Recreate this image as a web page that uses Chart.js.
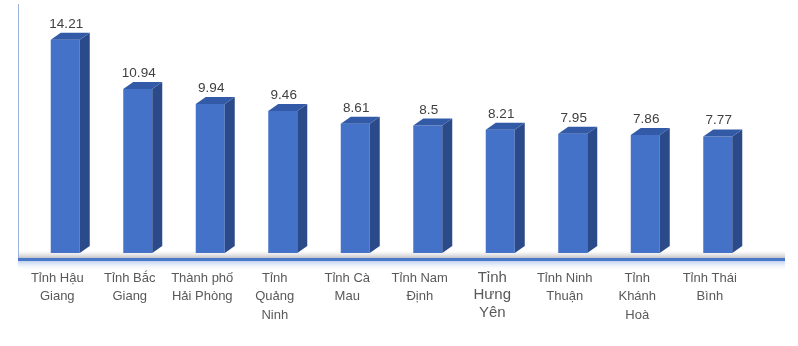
<!DOCTYPE html>
<html>
<head>
<meta charset="utf-8">
<script src="https://cdn.jsdelivr.net/npm/chart.js@4/dist/chart.umd.min.js"></script>
<style>
html,body{margin:0;padding:0;background:#ffffff;}
#wrap{width:798px;height:346px;}
</style>
</head>
<body>
<div id="wrap"><canvas id="c" width="798" height="346"></canvas></div>
<script>
const categories = [
  ["Tỉnh Hậu","Giang"],
  ["Tỉnh Bắc","Giang"],
  ["Thành phố","Hải Phòng"],
  ["Tỉnh","Quảng","Ninh"],
  ["Tỉnh Cà","Mau"],
  ["Tỉnh Nam","Định"],
  ["Tỉnh","Hưng","Yên"],
  ["Tỉnh Ninh","Thuận"],
  ["Tỉnh","Khánh","Hoà"],
  ["Tỉnh Thái","Bình"]
];
const values = [14.21, 10.94, 9.94, 9.46, 8.61, 8.5, 8.21, 7.95, 7.86, 7.77];
const valueLabels = ["14.21","10.94","9.94","9.46","8.61","8.5","8.21","7.95","7.86","7.77"];

const FONT = "'Liberation Sans', Arial, sans-serif";
const SHIFT = 8, DX = 10, DY = 7;

const bar3d = {
  id: 'bar3d',
  beforeDatasetsDraw(chart) {
    const ctx = chart.ctx;
    const a = chart.chartArea;
    const x0 = a.left - 3, w = 785 - x0;
    ctx.save();
    let g = ctx.createLinearGradient(0, a.bottom - 2, 0, a.bottom + 5);
    g.addColorStop(0, 'rgba(215,215,218,0)');
    g.addColorStop(1, 'rgba(185,185,190,0.85)');
    ctx.fillStyle = g;
    ctx.fillRect(x0, a.bottom - 2, w, 7);
    ctx.fillStyle = '#4a78c8';
    ctx.fillRect(x0, a.bottom + 5, w, 3);
    g = ctx.createLinearGradient(0, a.bottom + 8, 0, a.bottom + 17);
    g.addColorStop(0, 'rgba(165,188,230,0.7)');
    g.addColorStop(1, 'rgba(235,241,250,0)');
    ctx.fillStyle = g;
    ctx.fillRect(x0, a.bottom + 8, w, 9);
    ctx.strokeStyle = '#9db3dc';
    ctx.lineWidth = 1;
    ctx.beginPath();
    ctx.moveTo(a.left - 2.5, 4);
    ctx.lineTo(a.left - 2.5, a.bottom + 5);
    ctx.stroke();
    ctx.restore();
    ctx.save();
    ctx.translate(SHIFT, 0);
  },
  afterDatasetsDraw(chart) {
    const ctx = chart.ctx;
    const meta = chart.getDatasetMeta(0);
    meta.data.forEach((bar, i) => {
      const p = bar.getProps(['x','y','base','width'], true);
      const l = p.x - p.width / 2, r = p.x + p.width / 2;
      ctx.fillStyle = '#2b4a89';
      ctx.beginPath();
      ctx.moveTo(r, p.y);
      ctx.lineTo(r + DX, p.y - DY);
      ctx.lineTo(r + DX, p.base - DY);
      ctx.lineTo(r, p.base);
      ctx.closePath();
      ctx.fill();
      ctx.fillStyle = '#325aa6';
      ctx.beginPath();
      ctx.moveTo(l, p.y);
      ctx.lineTo(l + DX, p.y - DY);
      ctx.lineTo(r + DX, p.y - DY);
      ctx.lineTo(r, p.y);
      ctx.closePath();
      ctx.fill();
      ctx.fillStyle = '#404040';
      ctx.font = '13.5px ' + FONT;
      ctx.textAlign = 'center';
      ctx.textBaseline = 'alphabetic';
      ctx.fillText(valueLabels[i], p.x + 1, p.y - 12);
    });
    ctx.restore();
  }
};

new Chart(document.getElementById('c'), {
  type: 'bar',
  data: {
    labels: categories,
    datasets: [{
      data: values,
      backgroundColor: '#4472c8',
      borderWidth: 0,
      barPercentage: 0.4,
      categoryPercentage: 1.0
    }]
  },
  options: {
    responsive: false,
    animation: false,
    layout: { padding: { left: 21, right: 52, top: 13, bottom: 0 } },
    plugins: { legend: { display: false }, tooltip: { enabled: false } },
    scales: {
      x: {
        grid: { display: false, drawTicks: false },
        border: { display: false },
        afterFit(scale) { scale.height = 93; },
        ticks: {
          autoSkip: false,
          maxRotation: 0,
          minRotation: 0,
          padding: 16,
          color: '#595959',
          font: (c) => c.index === 6
            ? { family: FONT, size: 15, lineHeight: 1.17 }
            : { family: FONT, size: 13, lineHeight: 1.42 }
        }
      },
      y: {
        display: false,
        min: 0,
        max: 16
      }
    }
  },
  plugins: [bar3d]
});
</script>
</body>
</html>
